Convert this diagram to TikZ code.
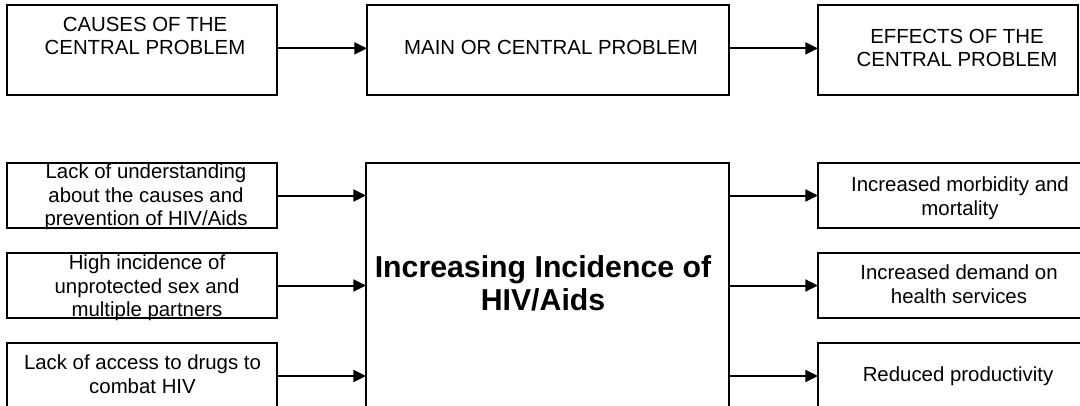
\documentclass[tikz,border=0pt]{standalone}
\usepackage{fontspec}
\setmainfont{Liberation Sans}
\usetikzlibrary{arrows.meta}
\begin{document}
\begin{tikzpicture}[x=0.75pt,y=-0.75pt,
  box/.style={draw=black, line width=1.5pt, rectangle, inner sep=0pt, outer sep=0pt, anchor=north west},
  txt/.style={align=center, inner sep=0pt, text=black, font=\fontsize{15.3pt}{17.6pt}\selectfont},
  bigtxt/.style={align=center, inner sep=0pt, text=black, font=\fontsize{22.7pt}{24.4pt}\selectfont\bfseries},
  arr/.style={line width=1.5pt, -{Triangle[length=9.5pt,width=9pt]}}]
\useasboundingbox (0,0) rectangle (1080,406);
\clip (0,0) rectangle (1080,406);

% header row
\node[box, minimum width=202.5pt, minimum height=67.5pt] (hc) at (7,5) {};
\node[box, minimum width=271.5pt, minimum height=67.5pt] (hm) at (367,5) {};
\node[box, minimum width=195pt,   minimum height=67.5pt] (he) at (818,5) {};
\node[txt] (hct) at (145,36) {CAUSES OF THE\\CENTRAL PROBLEM};
\node[txt] (hmt) at (551,47.5) {MAIN OR CENTRAL PROBLEM};
\node[txt] (het) at (957,48) {EFFECTS OF THE\\CENTRAL PROBLEM};
\draw[arr] ([yshift=1.2pt]hc.east) -- ([yshift=1.2pt]hm.west);
\draw[arr] ([yshift=1.2pt]hm.east) -- ([yshift=1.2pt]he.west);

% causes
\node[box, minimum width=202.5pt, minimum height=48.75pt] (c1) at (7,163) {};
\node[box, minimum width=202.5pt, minimum height=48.75pt] (c2) at (7,253) {};
\node[box, minimum width=202.5pt, minimum height=49.5pt]  (c3) at (7,343) {};
% central problem
\node[box, minimum width=272.25pt, minimum height=195pt] (core) at (366,163) {};
% effects
\node[box, minimum width=217.5pt, minimum height=48.75pt] (e1) at (818,163) {};
\node[box, minimum width=217.5pt, minimum height=48.75pt] (e2) at (818,253) {};
\node[box, minimum width=217.5pt, minimum height=49.5pt]  (e3) at (818,343) {};

\node[txt] (c1t) at (146,197) {Lack of understanding\\about the causes and\\prevention of HIV/Aids};
\node[txt] (c2t) at (147,288) {High incidence of\\unprotected sex and\\multiple partners};
\node[txt] (c3t) at (142.5,374) {Lack of access to drugs to\\combat HIV};
\node[bigtxt] (coret) at (543,283.5) {Increasing Incidence of\\HIV/Aids};
\node[txt] (e1t) at (960,198) {Increased morbidity and\\mortality};
\node[txt] (e2t) at (959,284) {Increased demand on\\health services};
\node[txt] (e3t) at (958,376) {Reduced productivity};

\draw[arr] (c1.east) -- (c1.east -| core.west);
\draw[arr] (c2.east) -- (c2.east -| core.west);
\draw[arr] (c3.east) -- (c3.east -| core.west);
\draw[arr] (e1.west -| core.east) -- (e1.west);
\draw[arr] (e2.west -| core.east) -- (e2.west);
\draw[arr] (e3.west -| core.east) -- (e3.west);
\end{tikzpicture}
\end{document}
